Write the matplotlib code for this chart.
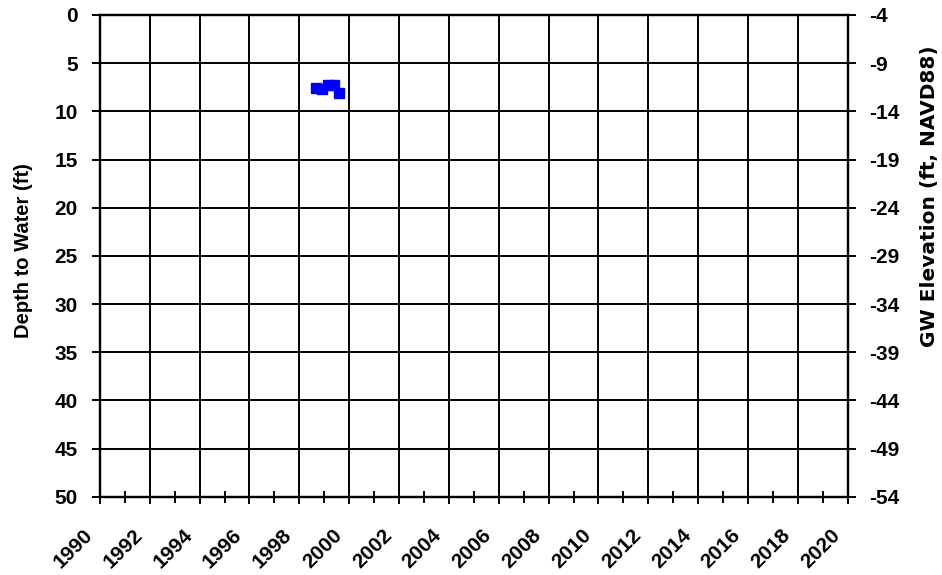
import matplotlib
matplotlib.use("Agg")
import matplotlib.pyplot as plt
import matplotlib.transforms as mtransforms
from matplotlib.ticker import MultipleLocator

plt.rcParams['font.family'] = ['Liberation Sans', 'DejaVu Sans']
plt.rcParams['font.weight'] = 'bold'

years = [1998.66, 1998.90, 1999.15, 1999.39, 1999.59]
depth = [7.55, 7.65, 7.25, 7.30, 8.10]

x_ticks = list(range(1990, 2021, 2))
y_ticks = list(range(0, 51, 5))
offset = -4  # GW elevation = offset - depth

fig = plt.figure(figsize=(9.42, 5.75), dpi=100)
ax = fig.add_axes([0.106, 0.136, 0.794, 0.838])

ax.plot(years, depth, linestyle='none', marker='s', markersize=7.3,
        color='#0000FF', markeredgecolor='#0000FF', zorder=5)

ax.set_xlim(1990, 2020)
ax.set_ylim(50, 0)
ax.set_xticks(x_ticks)
ax.set_xticklabels([])
ax.xaxis.set_minor_locator(MultipleLocator(1))

label_trans = (mtransforms.blended_transform_factory(ax.transData, ax.transAxes)
               + mtransforms.ScaledTranslation(-17 / 100, -29 / 100, fig.dpi_scale_trans))
for t in x_ticks:
    ax.text(t, 0, str(t), transform=label_trans, rotation=45, ha='right', va='top',
            rotation_mode='anchor', fontsize=15, fontweight='bold', clip_on=False)

ax.set_yticks(y_ticks)
ax.set_yticklabels([str(t) for t in y_ticks], fontsize=15, fontweight='bold')

ax.grid(True, which='major', color='black', linewidth=1.4)
for s in ax.spines.values():
    s.set_linewidth(1.6)
    s.set_color('black')
ax.tick_params(axis='x', which='major', direction='inout', length=10, width=1.4)
ax.tick_params(axis='x', which='minor', direction='inout', length=8, width=1.4)
ax.tick_params(axis='y', which='major', direction='out', length=6, width=1.4, pad=10)
ax.set_ylabel('Depth to Water (ft)', fontsize=14.5, fontweight='bold')
ax.yaxis.set_label_coords(-0.0896, 0.512)

ax2 = ax.twinx()
ax2.set_ylim(offset - 50, offset)
ax2.set_yticks([offset - t for t in y_ticks])
ax2.set_yticklabels([str(offset - t) for t in y_ticks], fontsize=15, fontweight='bold')
ax2.tick_params(axis='y', direction='out', length=6, width=1.4, pad=9)
for s in ax2.spines.values():
    s.set_linewidth(1.6)

fig.text(929 / 942, 1 - 196 / 575, 'GW Elevation (ft, NAVD88)', rotation=90,
         ha='center', va='center', fontsize=14.5, fontweight='bold',
         family=['DejaVu Sans'])

fig.savefig('out.png', dpi=100)
